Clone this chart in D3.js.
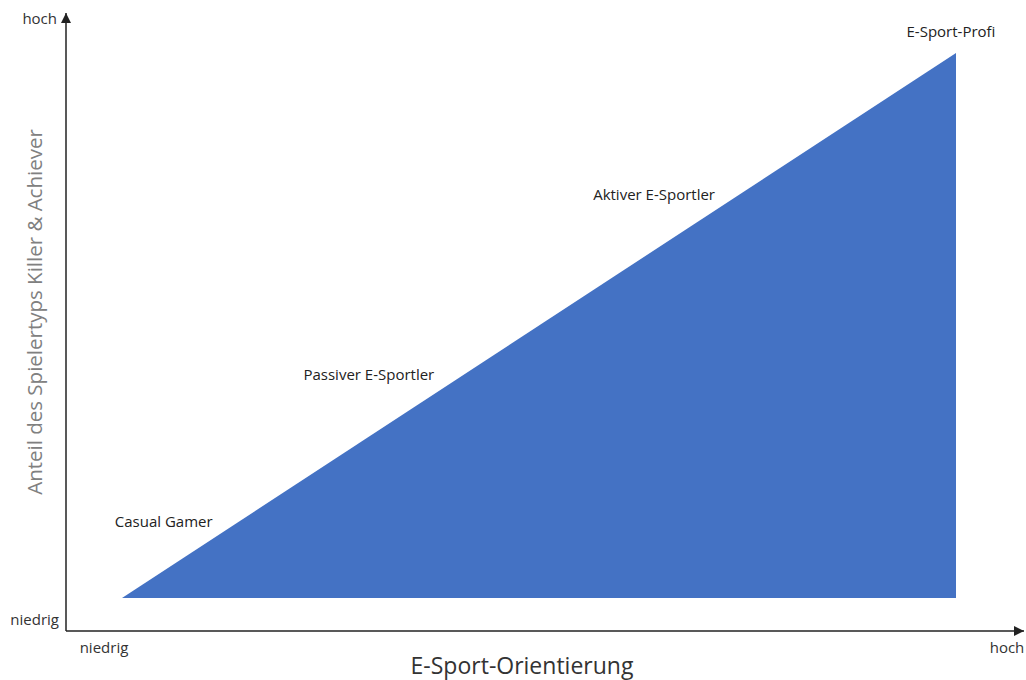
<!DOCTYPE html>
<html lang="de">

<head>
    <meta charset="UTF-8">
    <title>E-Sport-Orientierung</title>
    <script src="https://d3js.org/d3.v7.min.js"></script>
    <style>
        body { margin: 0; background: #fff; }
        text { font-family: "Open Sans", "Liberation Sans", sans-serif; }
    </style>
</head>

<body>
    <div id="chart"></div>

    <script>
        // Gamer types placed along the diagonal (orientation, share), both 0..1
        const categories = ["Casual Gamer", "Passiver E-Sportler", "Aktiver E-Sportler", "E-Sport-Profi"];
        const orientation = [0.05, 0.296, 0.638, 0.994];
        const share = [0.13, 0.40, 0.73, 1.03];

        // filled area: from low/low up to high/high
        const areaX = [0, 1, 1];
        const areaY = [0, 1, 0];

        const tickLabels = ["niedrig", "hoch"];
        const xTitle = "E-Sport-Orientierung";
        const yTitle = "Anteil des Spielertyps Killer & Achiever";

        const width = 1026;
        const height = 680;

        const svg = d3.select("#chart")
            .append("svg")
            .attr("width", width)
            .attr("height", height);

        const x = d3.scaleLinear().domain([0, 1]).range([122, 956]);
        const y = d3.scaleLinear().domain([0, 1]).range([598, 53]);

        // axis frame positions
        const axisX0 = 66, axisY0 = 631;
        const axisXEnd = 1024, axisYEnd = 13;

        svg.append("defs").append("marker")
            .attr("id", "arrow")
            .attr("viewBox", "0 0 10 10")
            .attr("refX", 10)
            .attr("refY", 5)
            .attr("markerWidth", 10)
            .attr("markerHeight", 10)
            .attr("markerUnits", "userSpaceOnUse")
            .attr("orient", "auto")
            .append("path")
            .attr("d", "M0,0 L10,5 L0,10 Z")
            .attr("fill", "#222");

        const pts = areaX.map((d, i) => [x(d), y(areaY[i])]);
        svg.append("path")
            .attr("d", d3.line()(pts) + "Z")
            .attr("fill", "#4472C4");

        svg.append("line")
            .attr("x1", axisX0).attr("y1", axisY0)
            .attr("x2", axisX0).attr("y2", axisYEnd)
            .attr("stroke", "#222")
            .attr("stroke-width", 1.5)
            .attr("marker-end", "url(#arrow)");

        svg.append("line")
            .attr("x1", axisX0).attr("y1", axisY0)
            .attr("x2", axisXEnd).attr("y2", axisY0)
            .attr("stroke", "#222")
            .attr("stroke-width", 1.5)
            .attr("marker-end", "url(#arrow)");

        // tick labels
        const tickStyle = { size: "15px", color: "#333" };
        svg.append("text")
            .attr("x", 57).attr("y", 24)
            .attr("text-anchor", "end")
            .style("font-size", tickStyle.size).attr("fill", tickStyle.color)
            .text(tickLabels[1]);
        svg.append("text")
            .attr("x", 59).attr("y", 625)
            .attr("text-anchor", "end")
            .style("font-size", tickStyle.size).attr("fill", tickStyle.color)
            .text(tickLabels[0]);
        svg.append("text")
            .attr("x", 104).attr("y", 653)
            .attr("text-anchor", "middle")
            .style("font-size", tickStyle.size).attr("fill", tickStyle.color)
            .text(tickLabels[0]);
        svg.append("text")
            .attr("x", 1007).attr("y", 653)
            .attr("text-anchor", "middle")
            .style("font-size", tickStyle.size).attr("fill", tickStyle.color)
            .text(tickLabels[1]);

        // axis titles
        svg.append("text")
            .attr("x", 522).attr("y", 674)
            .attr("text-anchor", "middle")
            .style("font-size", "23px")
            .attr("fill", "#333")
            .text(xTitle);

        svg.append("text")
            .attr("transform", "translate(42, 312) rotate(-90)")
            .attr("text-anchor", "middle")
            .style("font-size", "20.5px")
            .attr("fill", "#808080")
            .text(yTitle);

        // category labels
        svg.selectAll("text.cat")
            .data(categories)
            .join("text")
            .attr("class", "cat")
            .attr("x", (d, i) => x(orientation[i]))
            .attr("y", (d, i) => y(share[i]))
            .attr("text-anchor", "middle")
            .style("font-size", "15px")
            .attr("fill", "#222")
            .text(d => d);
    </script>
</body>

</html>
